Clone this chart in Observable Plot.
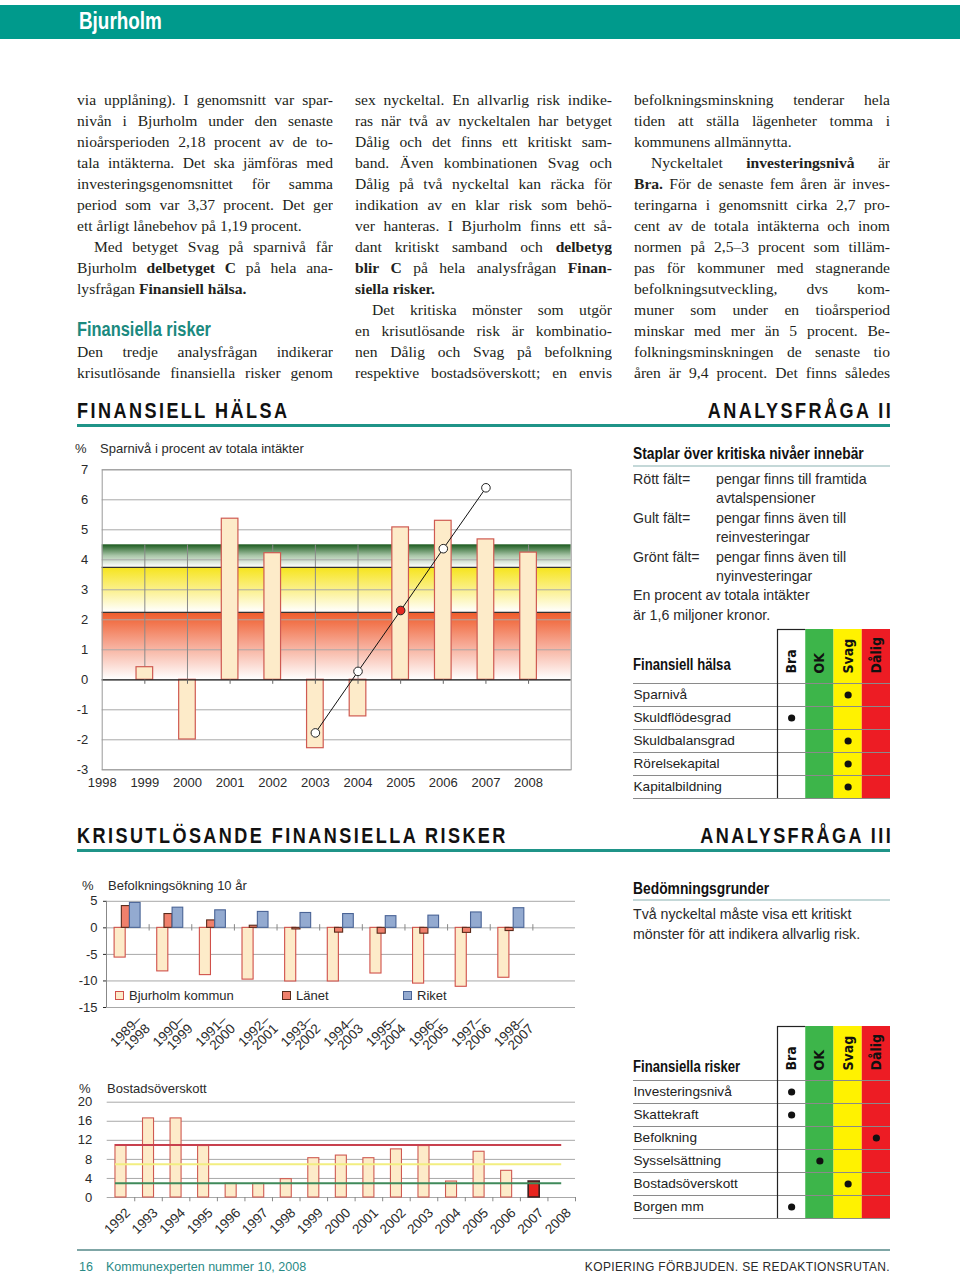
<!DOCTYPE html>
<html><head><meta charset="utf-8">
<script src="https://cdn.jsdelivr.net/npm/d3@7"></script>
<script src="https://cdn.jsdelivr.net/npm/@observablehq/plot@0.6"></script>
<style>
body{margin:0;background:#fff;}
#page{position:relative;width:960px;height:1277px;overflow:hidden;font-family:"Liberation Sans",Arial,sans-serif;color:#231f20;}
.abs{position:absolute;}
.cond{display:inline-block;transform:scaleX(0.82);transform-origin:0 0;white-space:nowrap;font-family:"Liberation Sans",Arial,sans-serif;font-weight:bold;}
.condR{display:inline-block;transform:scaleX(0.82);transform-origin:100% 0;white-space:nowrap;font-family:"Liberation Sans",Arial,sans-serif;font-weight:bold;}
.col{position:absolute;top:89px;font-family:"Liberation Serif","Times New Roman",serif;font-size:15.6px;line-height:21px;}
.col .ln{height:21px;overflow:hidden;text-align:justify;text-align-last:justify;}
.col .ln.l{text-align-last:left;}
.col .ln.in{text-indent:17px;}
.col .hd{height:21px;font-size:20px;color:#1b8a7f;line-height:19px;white-space:nowrap;}
.sec{position:absolute;font-size:22px;letter-spacing:3px;color:#111;line-height:22px;}
.rule{position:absolute;background:#1f9488;}
.small{position:absolute;font-size:13px;line-height:16px;color:#2a2a2a;white-space:nowrap;}
.rp{position:absolute;font-size:14.2px;line-height:16px;color:#2a2a2a;white-space:nowrap;}
.leg{position:absolute;font-size:13px;line-height:16px;color:#2a2a2a;white-space:nowrap;}
.sw{display:inline-block;width:7px;height:7px;margin-right:5px;vertical-align:0px;}
</style>
</head><body>
<div id="page">
  <div class="abs" style="left:0;top:5px;width:960px;height:34px;background:#009a8c;"></div>
  <div class="abs" style="left:79px;top:8px;font-size:23px;color:#fff;line-height:26px;"><span class="cond">Bjurholm</span></div>

  <div class="col" style="left:77px;width:256px;">
    <div class="ln">via upplåning). I genomsnitt var spar-</div>
    <div class="ln">nivån i Bjurholm under den senaste</div>
    <div class="ln">nioårsperioden 2,18 procent av de to-</div>
    <div class="ln">tala intäkterna. Det ska jämföras med</div>
    <div class="ln">investeringsgenomsnittet för samma</div>
    <div class="ln">period som var 3,37 procent. Det ger</div>
    <div class="ln l">ett årligt lånebehov på 1,19 procent.</div>
    <div class="ln in">Med betyget Svag på sparnivå får</div>
    <div class="ln">Bjurholm <b>delbetyget C</b> på hela ana-</div>
    <div class="ln l">lysfrågan <b>Finansiell hälsa.</b></div>
    <div class="ln l">&nbsp;</div>
    <div class="hd"><span class="cond">Finansiella risker</span></div>
    <div class="ln">Den tredje analysfrågan indikerar</div>
    <div class="ln">krisutlösande finansiella risker genom</div>
  </div>
  <div class="col" style="left:355px;width:257px;">
    <div class="ln">sex nyckeltal. En allvarlig risk indike-</div>
    <div class="ln">ras när två av nyckeltalen har betyget</div>
    <div class="ln">Dålig och det finns ett kritiskt sam-</div>
    <div class="ln">band. Även kombinationen Svag och</div>
    <div class="ln">Dålig på två nyckeltal kan räcka för</div>
    <div class="ln">indikation av en klar risk som behö-</div>
    <div class="ln">ver hanteras. I Bjurholm finns ett så-</div>
    <div class="ln">dant kritiskt samband och <b>delbetyg</b></div>
    <div class="ln"><b>blir C</b> på hela analysfrågan <b>Finan-</b></div>
    <div class="ln l"><b>siella risker.</b></div>
    <div class="ln in">Det kritiska mönster som utgör</div>
    <div class="ln">en krisutlösande risk är kombinatio-</div>
    <div class="ln">nen Dålig och Svag på befolkning</div>
    <div class="ln">respektive bostadsöverskott; en envis</div>
  </div>
  <div class="col" style="left:634px;width:256px;">
    <div class="ln">befolkningsminskning tenderar hela</div>
    <div class="ln">tiden att ställa lägenheter tomma i</div>
    <div class="ln l">kommunens allmännytta.</div>
    <div class="ln in">Nyckeltalet <b>investeringsnivå</b> är</div>
    <div class="ln"><b>Bra.</b> För de senaste fem åren är inves-</div>
    <div class="ln">teringarna i genomsnitt cirka 2,7 pro-</div>
    <div class="ln">cent av de totala intäkterna och inom</div>
    <div class="ln">normen på 2,5–3 procent som tilläm-</div>
    <div class="ln">pas för kommuner med stagnerande</div>
    <div class="ln">befolkningsutveckling, dvs kom-</div>
    <div class="ln">muner som under en tioårsperiod</div>
    <div class="ln">minskar med mer än 5 procent. Be-</div>
    <div class="ln">folkningsminskningen de senaste tio</div>
    <div class="ln">åren är 9,4 procent. Det finns således</div>
  </div>

  <div class="sec" style="left:77px;top:400px;"><span class="cond">FINANSIELL HÄLSA</span></div>
  <div class="sec" style="right:67px;top:400px;"><span class="condR">ANALYSFRÅGA II</span></div>
  <div class="rule" style="left:77px;top:424px;width:813px;height:3px;"></div>

  <div class="sec" style="left:77px;top:825px;"><span class="cond">KRISUTLÖSANDE FINANSIELLA RISKER</span></div>
  <div class="sec" style="right:67px;top:825px;"><span class="condR">ANALYSFRÅGA III</span></div>
  <div class="rule" style="left:77px;top:849px;width:813px;height:3px;"></div>

  <!-- chart 1 titles -->
  <div class="small" style="left:75px;top:441px;">%</div>
  <div class="small" style="left:100px;top:441px;">Sparnivå i procent av totala intäkter</div>
  <div id="c1" class="abs" style="left:75px;top:440px;"></div>

  <!-- chart 2 -->
  <div class="small" style="left:82px;top:878px;">%</div>
  <div class="small" style="left:108px;top:878px;">Befolkningsökning 10 år</div>
  <div id="c2" class="abs" style="left:75px;top:870px;"></div>
  <div id="leg2"></div>

  <!-- chart 3 -->
  <div class="small" style="left:79px;top:1081px;">%</div>
  <div class="small" style="left:107px;top:1081px;">Bostadsöverskott</div>
  <div id="c3" class="abs" style="left:75px;top:1075px;"></div>

  <!-- right top -->
  <div class="abs" style="left:633px;top:444px;font-size:16.3px;line-height:18px;color:#111;"><span class="cond" style="transform:scaleX(0.85)">Staplar över kritiska nivåer innebär</span></div>
  <div class="abs" style="left:633px;top:465px;width:257px;height:2px;background:#c4d8d8;"></div>
  <div id="expl"></div>
  <div class="abs" style="left:633px;top:656px;font-size:16px;line-height:18px;color:#111;"><span class="cond">Finansiell hälsa</span></div>
  <div id="t1" class="abs" style="left:633px;top:629px;"></div>

  <!-- right bottom -->
  <div class="abs" style="left:633px;top:879px;font-size:16.3px;line-height:18px;color:#111;"><span class="cond" style="transform:scaleX(0.85)">Bedömningsgrunder</span></div>
  <div class="abs" style="left:633px;top:899px;width:257px;height:2px;background:#c4d8d8;"></div>
  <div class="rp" style="left:633px;top:906px;">Två nyckeltal måste visa ett kritiskt</div>
  <div class="rp" style="left:633px;top:926px;">mönster för att indikera allvarlig risk.</div>
  <div class="abs" style="left:633px;top:1058px;font-size:16px;line-height:18px;color:#111;"><span class="cond">Finansiella risker</span></div>
  <div id="t2" class="abs" style="left:633px;top:1026px;"></div>

  <!-- footer -->
  <div class="abs" style="left:77px;top:1249px;width:813px;height:2px;background:#7fa6a6;"></div>
  <div class="abs" style="left:79px;top:1259px;font-size:12.5px;color:#2a8a86;line-height:16px;">16</div>
  <div class="abs" style="left:106px;top:1259px;font-size:12.5px;color:#2a8a86;line-height:16px;">Kommunexperten nummer 10, 2008</div>
  <div class="abs" style="right:70px;top:1259px;font-size:12px;color:#2a2a2a;line-height:16px;letter-spacing:0.35px;">KOPIERING FÖRBJUDEN. SE REDAKTIONSRUTAN.</div>
</div>

<script>
// ================= DATA =================
// Chart 1: Sparnivå i procent av totala intäkter
const sparYears  = [1999, 2000, 2001, 2002, 2003, 2004, 2005, 2006, 2007, 2008];
const sparValues = [0.42, -1.99, 5.37, 4.22, -2.28, -1.22, 5.08, 5.30, 4.68, 4.24];
const sparAxisYears = [1998, 1999, 2000, 2001, 2002, 2003, 2004, 2005, 2006, 2007, 2008];
const trendYears  = [2003, 2004, 2005, 2006, 2007];
const trendValues = [-1.77, 0.28, 2.31, 4.37, 6.40];
const trendRedYear = 2005;
const zoneNames = ["Rött fält", "Gult fält", "Grönt fält"];
const zoneFrom  = [0, 2.25, 3.75];
const zoneTo    = [2.25, 3.75, 4.5];
const zoneColor = ["#ef5a28", "#f6e41a", "#1b5a1e"];
const sparTicks = [-3, -2, -1, 0, 1, 2, 3, 4, 5, 6, 7];

// Chart 2: Befolkningsökning 10 år
const periods  = ["1989–1998", "1990–1999", "1991–2000", "1992–2001", "1993–2002", "1994–2003", "1995–2004", "1996–2005", "1997–2006", "1998–2007"];
const bjurholm = [-5.6, -8.2, -8.9, -9.75, -10.1, -10.1, -8.6, -10.5, -11.1, -9.4];
const lanet    = [4.1, 2.6, 1.4, 0.4, -0.3, -0.9, -1.1, -1.1, -0.95, -0.6];
const riket    = [4.7, 3.8, 3.3, 3.0, 2.8, 2.6, 2.2, 2.3, 2.9, 3.7];
const befSeries = ["Bjurholm kommun", "Länet", "Riket"];
const befFill   = ["#fdebc9", "#f0806c", "#93aad0"];
const befStroke = ["#d0504a", "#5a2a1a", "#4a6496"];
const befTicks  = [5, 0, -5, -10, -15];

// Chart 3: Bostadsöverskott
const bostadYears  = [1992, 1993, 1994, 1995, 1996, 1997, 1998, 1999, 2000, 2001, 2002, 2003, 2004, 2005, 2006, 2007, 2008];
const bostadValues = [11.0, 16.6, 16.6, 10.8, 2.9, 2.9, 3.85, 8.25, 8.8, 8.25, 10.1, 10.8, 3.35, 9.6, 5.6, 3.35, null];
const bostadRedYear = 2007;
const bostadLevels = [11, 7, 3];
const bostadLevelColors = ["#c8404e", "#f2ee80", "#3f8a5a"];
const bostadTicks = [0, 4, 8, 12, 16, 20];

// Tables
const grades = ["Bra", "OK", "Svag", "Dålig"];
const gradeColors = ["#ffffff", "#3db54a", "#fff200", "#ed1c24"];
const halsaRows   = ["Sparnivå", "Skuldflödesgrad", "Skuldbalansgrad", "Rörelsekapital", "Kapitalbildning"];
const halsaGrades = ["Svag", "Bra", "Svag", "Svag", "Svag"];
const riskRows    = ["Investeringsnivå", "Skattekraft", "Befolkning", "Sysselsättning", "Bostadsöverskott", "Borgen mm"];
const riskGrades  = ["Bra", "Bra", "Dålig", "OK", "Svag", "Bra"];

// Explanation list
const explLabels = ["Rött fält=", "Gult fält=", "Grönt fält="];
const explTexts  = [["pengar finns till framtida", "avtalspensioner"], ["pengar finns även till", "reinvesteringar"], ["pengar finns även till", "nyinvesteringar"]];
const explNote   = ["En procent av totala intäkter", "är 1,6 miljoner kronor."];

// ================= RENDER =================
const SANS = '"Liberation Sans", Arial, sans-serif';
const NARROW = '"DejaVu Sans Condensed", sans-serif';
const NS = "http://www.w3.org/2000/svg";
const fmt = d => String(d);

function addGradient(svg, id, color, mid) {
  let defs = svg.querySelector("defs");
  if (!defs) { defs = document.createElementNS(NS, "defs"); svg.insertBefore(defs, svg.firstChild); }
  const g = document.createElementNS(NS, "linearGradient");
  g.setAttribute("id", id); g.setAttribute("x1", 0); g.setAttribute("y1", 0); g.setAttribute("x2", 0); g.setAttribute("y2", 1);
  const stops = [[0, color], [1, "#ffffff"]];
  if (mid) stops.splice(1, 0, mid);
  for (const [o, c] of stops) {
    const s = document.createElementNS(NS, "stop");
    s.setAttribute("offset", o); s.setAttribute("stop-color", c);
    g.appendChild(s);
  }
  defs.appendChild(g);
}

// ---- Chart 1 ----
{
  const bars = sparYears.map((year, i) => ({year, v: sparValues[i]}));
  const trend = trendYears.map((year, i) => ({year, v: trendValues[i]}));
  const zones = zoneNames.map((name, i) => ({name, lo: zoneFrom[i], hi: zoneTo[i], id: "zone" + i}));
  const half = 0.195;
  const x0 = sparAxisYears[0], x1 = sparAxisYears[sparAxisYears.length - 1] + 1;
  const svg = Plot.plot({
    width: 500, height: 360,
    marginLeft: 26.7, marginRight: 4.3, marginTop: 29.3, marginBottom: 30.7,
    x: {domain: [x0, x1], ticks: sparAxisYears, tickFormat: fmt, tickSize: 0, tickPadding: 8, label: null},
    y: {domain: [sparTicks[0], sparTicks[sparTicks.length - 1]], ticks: sparTicks, tickFormat: fmt, tickSize: 0, tickPadding: 14, label: null},
    color: {type: "identity"},
    style: {fontFamily: SANS, fontSize: "13px", color: "#2a2a2a", background: "transparent", overflow: "visible"},
    marks: [
      Plot.rect(zones, {x1: x0, x2: x1, y1: "lo", y2: "hi", fill: d => `url(#${d.id})`}),
      Plot.ruleY(sparTicks, {stroke: "#a8a8a8", strokeWidth: 1}),
      Plot.ruleX(sparYears, {y1: 0, y2: zoneTo[zoneTo.length - 1], stroke: "#8a8a8a", strokeWidth: 1}),
      Plot.ruleY(zoneFrom.slice(1), {stroke: "#333", strokeWidth: 1.3}),
      Plot.rectY(bars, {x1: d => d.year - half, x2: d => d.year + half, y1: 0, y2: "v", fill: "#fdebc9", stroke: "#cf5a52", strokeWidth: 1.2}),
      Plot.ruleY([0], {stroke: "#222", strokeWidth: 1.3}),
      Plot.ruleX(sparAxisYears.slice(1), {y1: 0, y2: -0.15, stroke: "#666"}),
      Plot.line(trend, {x: "year", y: "v", stroke: "#111", strokeWidth: 1}),
      Plot.dot(trend, {x: "year", y: "v", r: 4.3, fill: d => d.year === trendRedYear ? "#e42a24" : "#ffffff", stroke: "#222", strokeWidth: 1}),
      Plot.frame({stroke: "#9a9a9a"})
    ]
  });
  addGradient(svg, "zone0", zoneColor[0], [0.45, "#f6a48e"]);
  addGradient(svg, "zone1", zoneColor[1], [0.5, "#fbf08a"]);
  addGradient(svg, "zone2", zoneColor[2], [0.5, "#a9c6a8"]);
  document.getElementById("c1").appendChild(svg);
}

// ---- Chart 2 ----
{
  const slots = periods.length + 1;
  const offs = [[0.19, 0.45], [0.36, 0.55], [0.55, 0.80]];
  const vals = [bjurholm, lanet, riket];
  const data = [];
  befSeries.forEach((s, k) => periods.forEach((p, i) => data.push({s, k, i, v: vals[k][i]})));
  const labels = periods.map((p, i) => ({i, t: p.replace("–", "–\n")}));
  const yMin = befTicks[befTicks.length - 1], yMax = befTicks[0];
  const svg = Plot.plot({
    width: 500, height: 190,
    marginLeft: 31, marginRight: 0, marginTop: 30.8, marginBottom: 53,
    x: {domain: [0, slots], axis: null},
    y: {domain: [yMin, yMax], ticks: befTicks, tickFormat: fmt, tickSize: 3, tickPadding: 6, label: null},
    color: {type: "identity"},
    style: {fontFamily: SANS, fontSize: "13px", color: "#2a2a2a", background: "transparent", overflow: "visible"},
    marks: [
      Plot.ruleY(befTicks, {stroke: "#a8a8a8"}),
      Plot.ruleX(d3.range(1, periods.length + 1), {y1: -0.6, y2: 0.6, stroke: "#888"}),
      Plot.ruleX([0], {y1: yMin, y2: yMax, stroke: "#888"}),
      Plot.rectY(data, {x1: d => d.i + offs[d.k][0], x2: d => d.i + offs[d.k][1], y1: 0, y2: "v", fill: d => befFill[d.k], stroke: d => befStroke[d.k], strokeWidth: 1.1}),
      Plot.text(labels, {x: d => d.i + 0.5, y: yMin, text: "t", rotate: -45, textAnchor: "end", lineAnchor: "middle", lineHeight: 0.9, dx: 16, dy: 15, fontSize: 13.5})
    ]
  });
  document.getElementById("c2").appendChild(svg);
  const leg = document.getElementById("leg2");
  const legX = [115, 282, 403];
  befSeries.forEach((s, k) => {
    const d = document.createElement("div");
    d.className = "leg";
    d.style.left = legX[k] + "px"; d.style.top = "988px";
    d.innerHTML = `<span class="sw" style="background:${befFill[k]};border:1px solid ${befStroke[k]}"></span>${s}`;
    leg.appendChild(d);
  });
}

// ---- Chart 3 ----
{
  const data = bostadYears.map((year, i) => ({year, v: bostadValues[i]})).filter(d => d.v != null);
  const first = bostadYears[0], last = bostadYears[bostadYears.length - 1];
  const levels = bostadLevels.map((v, i) => ({v, c: bostadLevelColors[i]}));
  const half = 0.2;
  const svg = Plot.plot({
    width: 500, height: 160,
    marginLeft: 31.7, marginRight: 0, marginTop: 26.7, marginBottom: 38,
    x: {domain: [first - 0.5, last + 0.5], axis: null},
    y: {domain: [bostadTicks[0], bostadTicks[bostadTicks.length - 1]], ticks: bostadTicks, tickFormat: fmt, tickSize: 0, tickPadding: 15, label: null},
    color: {type: "identity"},
    style: {fontFamily: SANS, fontSize: "13px", color: "#2a2a2a", background: "transparent", overflow: "visible"},
    marks: [
      Plot.ruleY(bostadTicks, {stroke: "#a8a8a8"}),
      Plot.ruleX(bostadYears.map(y => y + 0.5), {y1: 0, y2: -0.9, stroke: "#888"}),
      Plot.rectY(data, {x1: d => d.year - half, x2: d => d.year + half, y1: 0, y2: "v", fill: d => d.year === bostadRedYear ? "#e8231e" : "#fdebc9", stroke: d => d.year === bostadRedYear ? "#3a2020" : "#cf5a52", strokeWidth: d => d.year === bostadRedYear ? 1.6 : 1.1}),
      Plot.ruleY(levels, {y: "v", x1: first - half, x2: last, stroke: "c", strokeWidth: 2}),
      Plot.text(bostadYears, {x: d => d, y: 0, text: fmt, rotate: -45, textAnchor: "end", lineAnchor: "middle", dx: 7, dy: 13, fontSize: 13.5})
    ]
  });
  document.getElementById("c3").appendChild(svg);
}

// ---- explanation list ----
{
  const host = document.getElementById("expl");
  const lh = 19.4;
  let row = 0;
  const top0 = 471;
  const add = (left, top, text) => {
    const b = document.createElement("div");
    b.className = "rp"; b.style.left = left + "px"; b.style.top = top + "px"; b.textContent = text;
    host.appendChild(b);
  };
  explLabels.forEach((lab, i) => {
    add(633, top0 + row * lh, lab);
    explTexts[i].forEach(t => { add(716, top0 + row * lh, t); row++; });
  });
  explNote.forEach(t => { add(633, top0 + row * lh, t); row++; });
}

// ---- tables ----
function makeTable(el, rows, rated) {
  const headerH = 54, rowH = 23, W = 257, labelW = 144;
  const colW = (W - labelW) / grades.length;
  const H = headerH + rowH * rows.length;
  const left = -labelW / colW;
  const cells = rows.map((r, i) => ({r, i, g: grades.indexOf(rated[i])}));
  const svg = Plot.plot({
    width: W, height: H + 1,
    marginLeft: 0, marginRight: 0, marginTop: 0, marginBottom: 1,
    x: {domain: [left, grades.length], axis: null},
    y: {domain: [0, H], range: [0, H], axis: null},
    color: {type: "identity"},
    style: {fontFamily: SANS, fontSize: "13.6px", color: "#222", background: "transparent", overflow: "visible"},
    marks: [
      Plot.rect(grades, {x1: (d, i) => i, x2: (d, i) => i + 1, y1: 0, y2: H, fill: (d, i) => gradeColors[i]}),
      Plot.ruleY(d3.range(rows.length + 1).map(i => headerH + rowH * i), {x1: left, x2: grades.length, stroke: "#8a8a8a", strokeWidth: 1.2}),
      Plot.ruleX([0], {y1: 0, y2: H, stroke: "#222", strokeWidth: 1.2}),
      Plot.ruleY([0], {x1: 0, x2: 1, stroke: "#222", strokeWidth: 1.2}),
      Plot.text(grades, {x: (d, i) => i + 0.5, y: headerH - 10, text: d => d, rotate: -90, textAnchor: "start", lineAnchor: "middle", fontFamily: NARROW, fontWeight: "bold", fontSize: 14, fill: "#111"}),
      Plot.text(cells, {x: left, y: d => headerH + rowH * (d.i + 0.5), text: "r", textAnchor: "start", fill: "#222"}),
      Plot.dot(cells, {x: d => d.g + 0.5, y: d => headerH + rowH * (d.i + 0.5), r: 3.6, fill: "#111", stroke: "none"})
    ]
  });
  document.getElementById(el).appendChild(svg);
}
makeTable("t1", halsaRows, halsaGrades);
makeTable("t2", riskRows, riskGrades);
</script>
</body></html>
